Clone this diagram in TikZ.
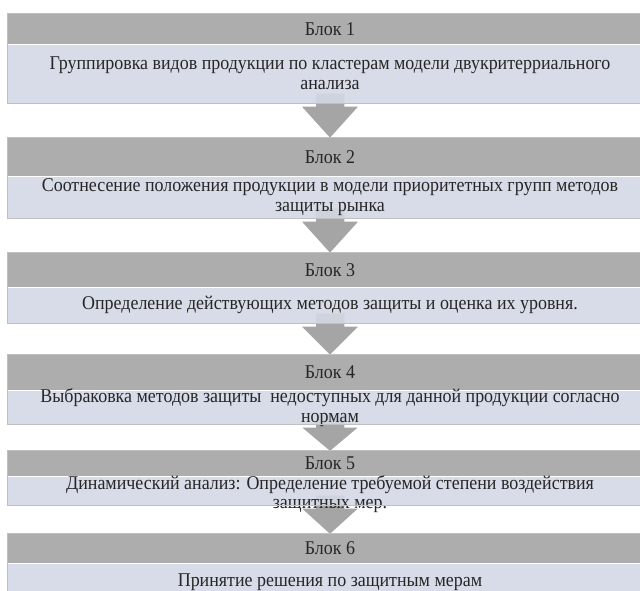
\documentclass[tikz,border=0pt]{standalone}
\usepackage{fontspec}
\setmainfont{Liberation Serif}[FakeStretch=0.92]
\usetikzlibrary{positioning}
\usetikzlibrary{calc}
\pgfdeclarelayer{background}
\pgfsetlayers{background,main}
\definecolor{kopfgrau}{RGB}{173,173,173}
\definecolor{blassblau}{RGB}{211,216,229}
\definecolor{pfeilgrau}{RGB}{165,165,165}
\tikzset{kopf/.style = {
rectangle, fill=kopfgrau, minimum width=646pt, inner sep=0pt, anchor=north,
text=black!85, font=\fontsize{19.5}{20}\selectfont
}}
\tikzset{koerper/.style = {kopf, fill=blassblau, fill opacity=0.9}}
\tikzset{textblock/.style = {align=center, text=black!85, font=\fontsize{19.5}{20}\selectfont}}
\tikzset{rahmen/.style = {draw=black!25, line width=0.6pt}}
\tikzset{pfeil/.style = {fill=pfeilgrau, draw=white, line width=1.5pt}}
\newcommand{\blockpfeil}[2]{
\begin{pgfonlayer}{background}
\filldraw[pfeil] ($(#1.south)+(-15,-10)$) -- ($(#1.south)+(-15,3)$) -- ($(#1.south)+(-30,3)$)
  -- ($(#2.north)+(0,2)$) -- ($(#1.south)+(30,3)$) -- ($(#1.south)+(15,3)$) -- ($(#1.south)+(15,-10)$) -- cycle;
\end{pgfonlayer}
}

\begin{document}
\begin{tikzpicture}[x=1pt,y=-1pt]
\useasboundingbox (0,0) rectangle (640,590);

\node[kopf, minimum height=31pt] (k1) at (330,13){Блок 1};
\node[koerper, minimum height=58pt, below=0pt of k1] (r1) {};
\node[textblock] (t1) at (r1) {Группировка видов продукции по кластерам модели двукритерриального\\анализа};

\node[kopf, minimum height=39pt] (k2) at (330,137){Блок 2};
\node[koerper, minimum height=41pt, below=0pt of k2] (r2) {};
\node[textblock] (t2) at (r2) {Соотнесение положения продукции в модели приоритетных групп методов\\защиты рынка};

\node[kopf, minimum height=35pt] (k3) at (330,252){Блок 3};
\node[koerper, minimum height=35pt, below=0pt of k3] (r3) {};
\node[textblock] (t3) at (r3) {Определение действующих методов защиты и оценка их уровня.};

\node[kopf, minimum height=36pt] (k4) at (330,354){Блок 4};
\node[koerper, minimum height=33pt, below=0pt of k4] (r4) {};
\node[textblock] (t4) at (r4) {Выбраковка методов защиты\ \ недоступных для данной продукции согласно\\нормам};

\node[kopf, minimum height=26pt] (k5) at (330,450){Блок 5};
\node[koerper, minimum height=28pt, below=0pt of k5] (r5) {};
\node[textblock, font=\fontsize{19.5}{19}\selectfont] (t5) at ($(r5)+(0,3)$) {Динамический анализ: Определение требуемой степени воздействия\\защитных мер.};

\node[kopf, minimum height=30pt] (k6) at (330,533){Блок 6};
\node[koerper, minimum height=37pt, below=0pt of k6] (r6) {};
\node[textblock] (t6) at (r6) {Принятие решения по защитным мерам};

\draw[rahmen] (k1.north west) rectangle (r1.south east);
\draw[rahmen] (k2.north west) rectangle (r2.south east);
\draw[rahmen] (k3.north west) rectangle (r3.south east);
\draw[rahmen] (k4.north west) rectangle (r4.south east);
\draw[rahmen] (k5.north west) rectangle (r5.south east);
\draw[rahmen] (k6.north west) rectangle (r6.south east);

\blockpfeil{r1}{k2}
\blockpfeil{r2}{k3}
\blockpfeil{r3}{k4}
\blockpfeil{r4}{k5}
\blockpfeil{r5}{k6}

\end{tikzpicture}
\end{document}
